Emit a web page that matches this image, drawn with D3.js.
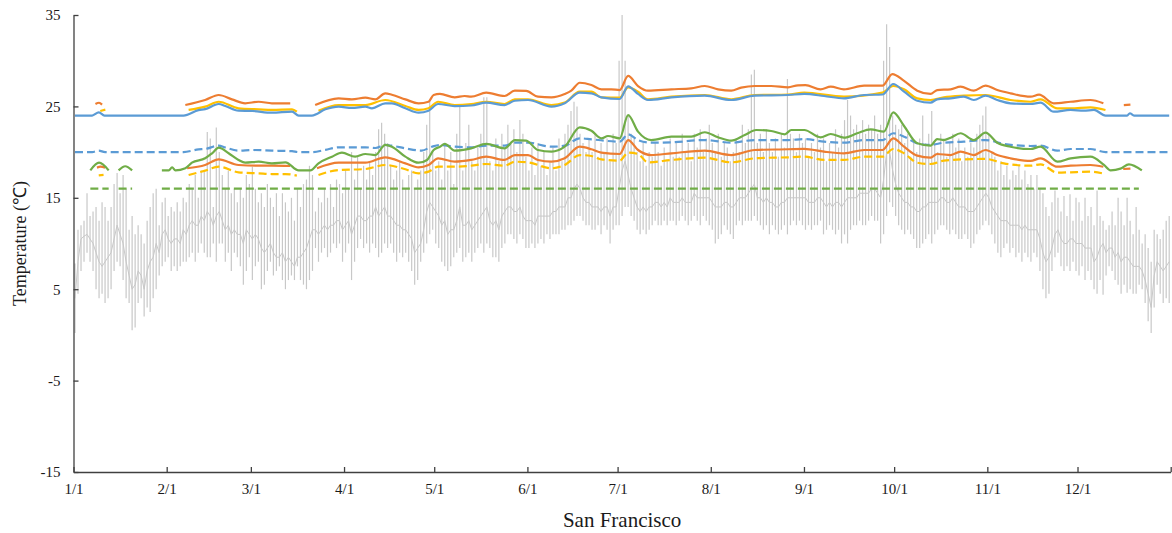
<!DOCTYPE html>
<html>
<head>
<meta charset="utf-8">
<script src="https://cdn.jsdelivr.net/npm/d3@7"></script>
<style>
  body { margin: 0; background: #fff; }
</style>
</head>
<body>
<svg id="chart" width="1172" height="533"></svg>
<script>
// ---- axis labels ----
const monthTickDays = [0, 31, 59, 90, 120, 151, 181, 212, 243, 273, 304, 334];
const monthTickLabels = ["1/1", "2/1", "3/1", "4/1", "5/1", "6/1", "7/1", "8/1", "9/1", "10/1", "11/1", "12/1"];
const yearEndDay = 365;
const tempTicks = [-15, -5, 5, 15, 25, 35];

// ---- daily outdoor temperature (°C), one value per day, grouped by month ----
const dailyHigh = [
  7.8,11.5,12,12.5,15.5,13,13.5,14,12.5,14.5,14,12.5,14,16.5,17.7,15.5,17.5,16,11.5,13,11,12,11,10,12.5,14,15.5,16,12,14.5,15,
  13,14,13.5,14.5,13.5,15,14.5,16.5,16,17.5,15,18,18,22.2,21.5,14,22.7,20,17.5,16,18,15.5,16,14.5,16,15,17.5,16.5,
  18.4,16,14.5,15.5,14,16.5,15,14,15.5,13,15.5,14.5,13.5,15,12.5,16,14,16.5,17,18.5,17.5,13.5,15,14.5,16,15,16.5,14,17,16.5,15.5,
  18,16,20,17,19.5,16,18.5,17,19,17.5,20,22.5,23.2,22,21,18.5,17,18,19,17,16,17.5,18,16,17,18,20,23,25.5,20,
  18,19,17,21,18,20,16.5,22,25,18,21,23,19,18,20.5,22,26,26,19,18,21.5,19,22,20.5,23,21,22.5,20,23.5,22,19.5,
  18,20.5,17.5,21,18.5,20,17.5,19,20.5,18,21.5,19,22,23,24.5,25.5,25,22,21,20,21.5,20,22,19.5,21,20,21.5,19,22,21,
  30,35,30,24,22,21.5,20,19,21,18.5,20,19.5,21,20,18.5,20.5,19,21.5,19.5,21,19.5,22,20,21,19,22,20.5,22.5,20,21.5,23,
  21,20,22,19.5,21,20.5,19,20,21.5,20,23,21,22.5,28.5,29,21,22,20,22.5,21,20,21.5,19.5,22,20.5,28,22,21.5,20,22,21,
  21.5,19.5,21,20,22,20.5,21.5,19,21,20,22.5,20.5,22,23.5,25.7,24,22.5,23,22,23.5,22,23,22.5,24,22,23,30,34,31.5,24,
  23,22.5,23,21,22,19.5,21,20,21.5,24,21,22,24.5,21,20,22,21.5,19.5,21,22,20.5,21.5,19,20.5,19.5,21,20.5,22,23,24,25,
  22,20,19.5,18,19,17.5,18.5,17,18,17.5,18.5,17,18,16.5,17.5,16,17.5,16,15.5,14,13,14.5,15.8,15,13.5,15.2,13,15.4,12.5,15,
  14.5,12.5,15,13,14,12,15.8,13,12.5,11.5,12,13.5,12,15,13.5,12,15,12.5,11,14,11.5,10,11,9.5,8,11.5,11,10.5,11.5,12.5,13
];
const dailyLow = [
  0.2,4.5,7,8,9,8,7,5,4,4.5,3.5,4,5,7,8,7.5,6,4,3.5,0.5,0.8,3.5,4,2,3,2.5,4,5,6.5,7.5,8,
  8.5,7,7.5,7,7.5,8,8,8.5,9,8,9,10,9,8.5,8.5,10,8,10,10,8,9,7,9,8.5,7.5,5.5,7,8.5,
  6,7.5,8,5,5.5,7,8,6.5,7,7.5,6,5,6,6.5,6,7.5,6,5.5,5,6,7,9.5,8,9,9.5,8.5,9,10,9.5,10,8,
  9,10,6,8,9.5,10.5,9.5,10,9,10,9.5,8.5,9,10,9.5,10,9,8,9,8.5,9,8,7,5.5,6,8,9,10,11,11.5,
  10,9.5,8,7.5,7,7.5,8.5,9,9.5,8,8.5,9,8,9,9.5,10,9,10,9.5,8.5,8.5,8,9.5,10,11,11,10.5,10,11,10.5,9.5,
  9.5,10,9.5,10,10.5,10,11,10.5,11,11,11,11.5,11.5,12,12,12.5,13,13,12.5,12,12,11.5,11.5,12,11,12,11.5,10,11.5,12,
  12,13,14,14,13,12.5,11.5,11,11.5,11,11.5,12,12.5,12,12,12.5,12,12.5,12.5,12,12.5,13,12.5,12,12.5,13,12.5,12,13,12.5,12,
  11.5,10,10.5,11,12,11.5,11,10.5,12,12.5,12,12.5,12.5,12.5,13,12.5,12,11.5,12,11,12,11.5,11,11.5,12,11,12,12.5,12,12.5,12,
  11.5,12,11.5,12,12,12.5,11,11.5,12,11.5,11,11.5,10,11,10,11.5,12,12,12.5,12,12,12.5,13,12.5,12.5,10,11,13,14.5,14,
  13,12,11.5,11,11.5,11,10.5,9.5,9.5,10,10.5,11,10,11,11.5,12,12,11.5,11,11.5,11,10.5,10.5,11,10.5,9.5,10,11,11.5,12,12.5,
  12,11,10,9,8.5,9.5,10,9,9.5,8.5,9,8,9,8.5,8,9,8.5,7,5,4,4.5,7,8.5,9,7.5,7,7.5,7,8,7,
  6.5,7.5,6,7,6,5,4.5,6,4.4,6.5,7.5,7,6,5.5,4.5,5.5,4.6,5,4.5,4.5,5.5,5,3.5,1.5,0.2,3,5.5,4.5,3.5,4,3.5
];
const dailyMean = [
  4,8,10.5,10.8,11,10.5,10,9,8,7.5,8,8.5,9,10.5,12,11,10,8,6.5,5,5.5,7,6.5,5,7,8,8.5,10,9,11,11.5,
  10.5,10,10.5,10.5,10,11.5,11,12,12.5,12,12,13,12.5,13.5,13,12,13,13.5,12.5,11.5,12,11,11.5,11,11,10,11.5,11,
  10.5,11,10.5,9.5,9,9.5,10,9,8.5,8.5,9,8,8.5,8,7.5,8.5,8.5,9,9.5,10.5,11.5,11.5,11,11.5,12,11.5,12,12,12.5,12.5,11.5,
  12,12.5,11,12,13,13,12.5,12.5,13,13,14,13,13.5,14,13,13,12.5,12,12,11.5,11.5,11,10.5,9,9.5,10,11.5,13.5,14.5,14,
  13.5,13,12,12.5,11,11.5,11.5,12.5,14,12,12,12.5,11.5,12,12.5,13,13.5,14,12.5,12,12.5,11.5,13,13.5,14,14,13.5,13.5,14,13,12.5,
  12.5,12.5,12,13,13,13,13,13,13.5,13.5,14,14,14,15,15,16,16.5,16,15,14.5,14.5,14,14,14,13.5,14,14,13,14,14,
  16,18,19,17.5,16,15,14,13.5,14,13.5,14,14,14.5,14.5,14,14.5,14,15,14.5,14.5,14.5,15,14.5,14.5,14.5,15.5,15,15,15,15,15,
  14.5,14,14,14,14.5,14.5,14,14,14.5,15,15,15,15.5,16,16.5,15,15,14.5,15,14.5,14.5,14,14,14.5,14.5,15,15,15,15,15,15,
  15,14.5,14.5,14.5,15,15,14.5,14,14.5,14,14.5,14.5,14,14.5,15,15,15,15,15.5,15.5,15.5,15.5,16,16,15.5,15,17,20,20,18,
  16.5,15.5,15,14.5,14.5,14,14,13.5,13.5,14,14,14.5,14.5,14.5,14.5,15,15,14.5,14.5,15,14.5,14,14,14,13.5,13.5,13.5,14,14.5,15,15.5,
  15,14,13.5,13,12.5,12.5,12.5,12,12,12,12,11.5,12,11.5,11.5,11.5,11.5,10.5,9,8,8.5,9.5,11,11.5,10.5,10,10,10.5,10.5,10,
  10,10,9.5,9.5,9.5,8,8.5,9.5,10,9,9.5,9.5,8.5,9,8,8.5,8.5,8,7.5,7.5,7.5,7,6,4.5,3,6.5,8,7.5,7,7.5,8
];

// ---- comfort limits: each series is a list of segments of [day, °C] ----
const upperOrange = [
  [[6.8,25.26],[8,25.4],[9,25.2]],
  [[36.7,25.15],[43.3,25.7],[47.8,26.25],[52.2,25.77],[56.6,25.34],[61.1,25.51],[65.5,25.34],[71.6,25.34]],
  [[79.9,25.15],[87.7,25.88],[92.1,25.77],[96.6,25.95],[99.9,25.77],[103.2,26.43],[105.4,26.28],[109.9,25.77],[114.3,25.34],[117.6,25.51],[119.3,26.25],[121.4,26.36],[126.3,25.99],[129.6,26.14],[131.8,26.06],[136.8,26.5],[142.9,26.14],[146.3,26.72],[150.1,26.69],[154,26.06],[158.5,25.99],[162.9,26.36],[165.1,26.72],[167.9,27.59],[171.8,27.34],[175.1,26.87],[178.4,26.87],[181.2,26.79],[184,28.33],[187.3,27.23],[190.6,26.72],[198.4,26.87],[205,26.98],[209.5,27.23],[213.9,26.87],[218.3,26.72],[221.6,27.05],[226.1,27.23],[231.6,27.23],[237.2,27.09],[240.5,27.31],[243,27.33],[248,26.87],[251.4,27.16],[255.8,26.87],[262.5,27.27],[268.6,27.27],[271.9,28.54],[275.8,27.8],[280.2,26.72],[284.6,26.36],[286.8,26.79],[291.3,26.87],[294.6,27.16],[299,26.72],[302.9,27.27],[306.8,26.79],[311.2,26.43],[317.9,26.06],[320.7,26.28],[325.6,25.34],[331.2,25.51],[337.8,25.7],[342.1,25.34]],
  [[348.9,25.15],[351.1,25.2]]
];
const upperYellow = [
  [[8.4,24.5],[10.1,24.65]],
  [[37.8,24.61],[43.3,24.97],[47.8,25.51],[54.4,24.79],[61.1,24.68],[65.5,24.61],[72.2,24.68],[73.8,24.42]],
  [[81,24.53],[87.7,25.15],[96.6,25.15],[103.2,25.7],[109.9,25.04],[114.3,24.61],[117.6,24.79],[120.8,25.51],[126.3,25.15],[131.8,25.26],[136.8,25.51],[142.9,25.26],[146.3,25.77],[150.7,25.77],[158.5,25.15],[162.9,25.41],[167.9,26.61],[171.8,26.61],[175.1,25.99],[181.2,25.95],[184,27.09],[187.3,26.61],[190.6,25.77],[198.4,26.06],[209.5,26.25],[218.3,25.77],[226.1,26.25],[237.2,26.3],[242.6,26.5],[255.8,26.06],[268.6,26.5],[272.2,27.23],[275.8,26.87],[280.2,25.88],[284.6,25.7],[289,25.99],[295.7,26.17],[302.9,26.25],[311.2,25.7],[317.9,25.51],[321.2,25.77],[326.8,24.79],[331.2,24.79],[337.8,24.9],[342.8,24.61]]
];
const upperBlue = [
  [[0,24],[5.7,24],[7.9,24.35],[9.8,24],[36.1,24],[41.1,24.6],[43.3,24.7],[47.8,25.26],[50,25.04],[54.4,24.53],[58.9,24.5],[65.5,24.31],[72.2,24.42],[74.4,24],[78.8,24],[83.3,24.68],[87.7,24.97],[92.1,24.83],[96.6,24.97],[98.8,24.79],[103.2,25.34],[105.4,25.34],[109.9,24.79],[114.3,24.31],[117.6,24.53],[120.8,25.26],[126.3,25.04],[131.8,25.1],[136.8,25.41],[142.9,25.15],[146.3,25.62],[150.7,25.7],[158.5,24.97],[162.9,25.34],[167.9,26.5],[171.8,26.43],[175.1,25.99],[181.2,25.81],[184,27.2],[187.3,26.36],[190.6,25.7],[198.4,25.99],[209.5,26.17],[218.3,25.7],[226.1,26.17],[237.2,26.25],[242.6,26.36],[249.2,26.14],[255.8,25.88],[262.5,26.25],[268.6,26.3],[272.2,27.45],[275.8,26.61],[280.2,25.62],[284.6,25.41],[286.8,25.77],[291.3,25.88],[295.7,26.06],[299,25.7],[302.9,26.17],[306.8,25.7],[311.2,25.34],[317.9,25.26],[321.2,25.41],[325.6,24.42],[331.2,24.61],[335.6,24.53],[339,24.61],[342.8,24],[350,24],[350.9,24.25],[352.3,24],[364,24]]
];
const lowerBlueDashed = [
  [[0,20],[5.7,20],[7.9,20.16],[10,20],[36.1,20],[41.1,20.3],[43.3,20.35],[47.8,20.7],[50,20.5],[54.4,20.16],[58.9,20.23],[65.5,20.16],[72.2,20.1],[74.4,20],[78.8,20],[83.3,20.25],[87.7,20.52],[96.6,20.52],[99.9,20.45],[103.2,20.78],[105.4,20.7],[109.9,20.41],[115.3,20.16],[118.7,20.59],[121.4,20.78],[126.3,20.59],[131.8,20.52],[136.8,20.7],[142.9,20.7],[146.3,21.03],[150.7,21.03],[158.5,20.59],[162.9,20.7],[167.9,21.51],[171.8,21.4],[181.2,21.14],[184,21.95],[187.3,21.32],[191.7,21.03],[198.4,21.07],[209.5,21.32],[218.3,21.03],[226.1,21.32],[237.2,21.32],[242.6,21.42],[249.2,21.14],[255.8,21.03],[262.5,21.32],[268.6,21.32],[272.2,22.06],[275.8,21.69],[280.2,20.96],[284.6,20.78],[289,21.03],[295.7,21.14],[302.9,21.32],[309,20.89],[317.9,20.67],[321.2,20.7],[326.8,20.16],[331.2,20.34],[337.8,20.34],[342.8,20],[364,20]]
];
const lowerGreen = [
  [[5.1,18],[8,18.84],[11.2,18]],
  [[14.5,18],[16.7,18.45],[19,18]],
  [[28.9,18],[31.2,18],[32.3,18.33],[33.4,18],[36.7,18.23],[38.9,18.84],[43.3,19.32],[45.6,19.87],[47.8,20.48],[51.1,19.87],[54.4,19.14],[56.6,18.84],[61.1,18.95],[65.5,18.77],[70,18.88],[74.4,18],[78.3,18],[81,18.77],[85.5,19.5],[88.8,19.94],[93.2,19.5],[96.6,19.79],[99.9,19.68],[103.2,20.78],[105.4,20.59],[109.9,19.5],[114.3,18.84],[117.1,19.14],[119.3,20.23],[121.4,20.59],[123,20.89],[126.3,20.16],[131.8,20.41],[136.8,20.89],[142.9,20.41],[146.3,21.32],[150.1,21.25],[154,20.23],[158.5,20.05],[162.9,20.59],[167.9,22.71],[171.8,22.34],[175.1,21.51],[177.3,21.76],[181.2,21.51],[184,24.05],[187.3,22.24],[191.7,21.32],[198.4,21.69],[205,21.69],[209.5,22.17],[213.9,21.62],[218.3,21.25],[222.8,21.87],[226.6,22.42],[231.6,22.31],[236.1,21.95],[238.3,22.42],[242.6,22.42],[248,21.62],[251.4,21.98],[255.8,21.58],[260.2,22.06],[264.7,22.49],[269.1,22.24],[272.2,24.35],[275.8,22.86],[280.2,20.96],[284.6,20.7],[286.8,21.43],[289,21.32],[291.3,21.58],[294.6,22.06],[299,21.32],[302.9,22.13],[306.8,21.03],[311.2,20.59],[317.9,20.34],[321.2,20.59],[326.8,18.95],[331.2,19.32],[337.8,19.5],[342.3,18.59],[344.5,18],[347.8,18.19],[350.6,18.66],[354.9,18]]
];
const lowerOrange = [
  [[7.3,18.3],[8.5,18.4],[10,18.3]],
  [[37.3,18.23],[43.3,18.59],[47.8,19.21],[54.4,18.59],[61.1,18.51],[65.5,18.51],[71.6,18.48]],
  [[80.5,18.23],[87.7,18.84],[96.6,18.84],[103.2,19.43],[109.9,18.77],[114.3,18.33],[117.6,18.59],[120.8,19.32],[126.3,18.95],[131.8,19.14],[136.8,19.5],[142.9,19.14],[146.3,19.68],[150.7,19.68],[154,19.14],[158.5,18.95],[162.9,19.32],[167.9,20.59],[171.8,20.31],[175.1,19.94],[181.2,19.79],[184,21.32],[187.3,20.23],[191.7,19.68],[198.4,19.87],[209.5,20.16],[218.3,19.68],[226.1,20.23],[237.2,20.31],[242.6,20.36],[249.2,20.05],[255.8,19.87],[262.5,20.23],[268.6,20.23],[272.2,21.51],[275.8,20.59],[280.2,19.61],[284.6,19.39],[286.8,19.79],[291.3,19.68],[294.6,20.05],[299,19.68],[302.9,20.23],[306.8,19.68],[311.2,19.32],[317.9,19.03],[321.2,19.32],[326.8,18.4],[331.2,18.51],[337.8,18.59],[342.1,18.4]],
  [[348.7,18.15],[351.1,18.2]]
];
const lowerYellowDashed = [
  [[7.9,17.45],[9.5,17.5]],
  [[37.8,17.49],[43.3,17.97],[47.8,18.4],[54.4,17.79],[61.1,17.68],[65.5,17.6],[70,17.6],[73.8,17.42]],
  [[81,17.49],[87.7,18.04],[96.6,18.15],[103.2,18.59],[109.9,18.12],[114.3,17.68],[117.6,17.86],[120.8,18.4],[126.3,18.4],[131.8,18.51],[136.8,18.7],[142.9,18.51],[146.3,18.95],[150.7,18.88],[158.5,18.23],[162.9,18.59],[167.9,19.68],[171.8,19.57],[175.1,19.21],[181.2,19.06],[184,19.94],[187.3,19.79],[190.6,18.88],[198.4,19.14],[209.5,19.39],[218.3,18.88],[226.1,19.32],[237.2,19.43],[242.6,19.5],[249.2,19.14],[255.8,19.14],[262.5,19.5],[268.6,19.5],[272.2,20.34],[275.8,19.87],[280.2,18.84],[284.6,18.7],[289,19.06],[295.7,19.21],[302.9,19.25],[309,18.77],[317.9,18.51],[321.2,18.66],[326.8,17.75],[331.2,17.79],[337.8,17.86],[342.8,17.6]]
];
const lowerGreenDashed = [
  [[5.1,16],[11.2,16]],
  [[14.5,16],[19,16]],
  [[28.9,16],[353.9,16]]
];

// ---- layout ----
const serif = '"Liberation Serif", "Times New Roman", serif';
const svg = d3.select("#chart");
const plot = { left: 73.5, right: 1170.7, top: 15, bottom: 472 };

const x = d3.scaleLinear().domain([0, yearEndDay]).range([plot.left, plot.right]);
const y = d3.scaleLinear().domain([-15, 35]).range([plot.bottom, plot.top]);

const dayX = d => x(d + 0.5);
const grey = "#c8c8c8";

// daily high-low bars
const days = d3.range(dailyHigh.length);
svg.append("g")
  .selectAll("line")
  .data(days)
  .join("line")
  .attr("x1", d => dayX(d)).attr("x2", d => dayX(d))
  .attr("y1", d => y(dailyLow[d])).attr("y2", d => y(dailyHigh[d]))
  .attr("stroke", grey).attr("stroke-width", 1.2);

// daily mean line
svg.append("path")
  .datum(days)
  .attr("fill", "none")
  .attr("stroke", grey)
  .attr("stroke-width", 1)
  .attr("d", d3.line().x(d => dayX(d)).y(d => y(dailyMean[d])));

// comfort limit lines
const limitLine = d3.line()
  .x(p => dayX(p[0]))
  .y(p => y(p[1]))
  .curve(d3.curveMonotoneX);

const series = [
  { segs: lowerGreenDashed, color: "#70AD47", dash: "8,4" },
  { segs: lowerYellowDashed, color: "#FFC000", dash: "8,4" },
  { segs: lowerOrange, color: "#ED7D31", dash: null },
  { segs: lowerBlueDashed, color: "#5B9BD5", dash: "8,4" },
  { segs: lowerGreen, color: "#70AD47", dash: null },
  { segs: upperYellow, color: "#FFC000", dash: null },
  { segs: upperBlue, color: "#5B9BD5", dash: null },
  { segs: upperOrange, color: "#ED7D31", dash: null }
];

series.forEach(s => {
  svg.append("g")
    .selectAll("path")
    .data(s.segs)
    .join("path")
    .attr("fill", "none")
    .attr("stroke", s.color)
    .attr("stroke-width", 2.2)
    .attr("stroke-linejoin", "round")
    .attr("stroke-dasharray", s.dash)
    .attr("d", limitLine);
});

// axes
const axisColor = "#404040";
const xAxis = d3.axisBottom(x)
  .tickValues([...monthTickDays, yearEndDay])
  .tickFormat((d, i) => monthTickLabels[i] || "")
  .tickSizeInner(-5).tickSizeOuter(0).tickPadding(11);
const yAxis = d3.axisLeft(y)
  .tickValues(tempTicks)
  .tickFormat(d => String(d))
  .tickSizeInner(-5).tickSizeOuter(0).tickPadding(13);

const gx = svg.append("g").attr("transform", `translate(0,${plot.bottom})`).call(xAxis);
const gy = svg.append("g").attr("transform", `translate(${plot.left},0)`).call(yAxis);

[gx, gy].forEach(g => {
  g.attr("font-family", serif).attr("font-size", 15);
  g.select(".domain").attr("stroke", axisColor).attr("stroke-width", 1.3);
  g.selectAll(".tick line").attr("stroke", axisColor).attr("stroke-width", 1.3);
  g.selectAll(".tick text").attr("fill", "#1a1a1a");
});

// titles
svg.append("text")
  .attr("x", (plot.left + plot.right) / 2)
  .attr("y", 527)
  .attr("text-anchor", "middle")
  .attr("fill", "#1a1a1a")
  .attr("font-family", serif)
  .attr("font-size", 21)
  .text("San Francisco");

svg.append("text")
  .attr("transform", `translate(26,${(plot.top + plot.bottom) / 2}) rotate(-90)`)
  .attr("text-anchor", "middle")
  .attr("fill", "#1a1a1a")
  .attr("font-family", serif)
  .attr("font-size", 18)
  .text("Temperature (℃)");
</script>
</body>
</html>
